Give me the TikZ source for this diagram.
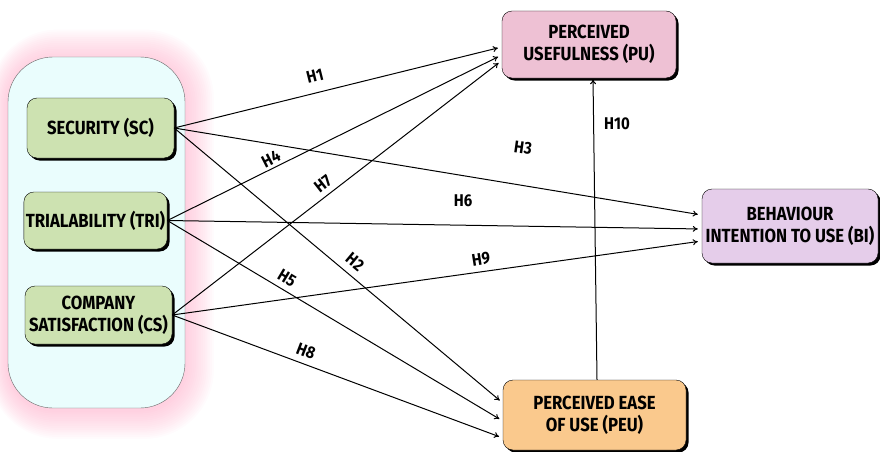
\documentclass[tikz,border=0pt]{standalone}
\usepackage{fontspec}
\usepackage{xcolor}
\usetikzlibrary{shapes, positioning, shadows, arrows.meta}
\newfontfamily\boxfont{Fira Sans}[FakeStretch=0.88]

\definecolor{groupfill}{HTML}{EAFDFD}
\definecolor{glow}{HTML}{FF9FC0}
\definecolor{scfill}{HTML}{CDE2B1}
\definecolor{pufill}{HTML}{EEC1D4}
\definecolor{bifill}{HTML}{E5CDEA}
\definecolor{peufill}{HTML}{FAC98D}

\tikzset{
    construct/.style={draw=black, rounded corners=10pt, align=center, inner sep=2pt,
        font=\boxfont\bfseries\fontsize{19}{22}\selectfont,
        drop shadow={shadow xshift=2.5pt, shadow yshift=-2.5pt, fill=black, opacity=1}},
    hlabel/.style={font=\boxfont\bfseries\fontsize{17}{19}\selectfont, inner sep=1pt},
    hyp/.style={-{To[length=5pt, width=6pt]}, line width=1pt, shorten >=4pt}
}

\begin{document}
\begin{tikzpicture}[x=1pt, y=-1pt]
        \useasboundingbox (0, 0) rectangle (880, 452);

        % pink glow round the group
        \foreach \i in {1,...,16} {
            \fill[glow, opacity=0.04, rounded corners=45+1.5*\i]
                (8-1.2*\i, 60-1.9*\i) rectangle (185+1.8*\i, 410+1.8*\i);
        }
        \node[draw=black!60, fill=groupfill, rounded corners=45pt,
            minimum width=177pt, minimum height=351pt] (grp) at (96.5, 232.5) {};

        \node[construct, fill=scfill, minimum width=147pt, minimum height=60pt] (sc) at (100.5, 128) {SECURITY (SC)};
        \node[construct, fill=scfill, minimum width=141pt, minimum height=57pt] (tri) at (95.5, 220.5) {TRIALABILITY (TRI)};
        \node[construct, fill=scfill, minimum width=147pt, minimum height=58pt] (cs) at (98.5, 315) {COMPANY\\SATISFACTION (CS)};

        \node[construct, fill=pufill, minimum width=174pt, minimum height=67pt] (pu) at (589, 44.5) {PERCEIVED\\USEFULNESS (PU)};
        \node[construct, fill=bifill, minimum width=176pt, minimum height=74pt] (bi) at (790, 226) {BEHAVIOUR\\INTENTION TO USE (BI)};
        \node[construct, fill=peufill, minimum width=183pt, minimum height=70pt] (peu) at (594.5, 415) {PERCEIVED EASE\\OF USE (PEU)};

        % hypotheses
        \draw[hyp] (sc.east) -- ([yshift=-2.5pt]pu.west);
        \draw[hyp] (tri.east) -- ([yshift=-10.5pt]pu.west);
        \draw[hyp] (cs.east) -- ([yshift=-16pt]pu.west);

        \draw[hyp] (sc.east) -- ([yshift=11pt]bi.west);
        \draw[hyp] (tri.east) -- ([yshift=-3pt]bi.west);
        \draw[hyp] (cs.east) -- ([yshift=-15pt]bi.west);

        \draw[hyp] (sc.east) -- ([yshift=12pt]peu.west);
        \draw[hyp] (tri.east) -- ([yshift=-6pt]peu.west);
        \draw[hyp] (cs.east) -- ([yshift=-23pt]peu.west);

        \draw[hyp, shorten >=1pt] ([xshift=2.5pt]peu.north) -- ([xshift=4pt]pu.south);

        \node[hlabel, rotate=14] (h1) at (315, 76) {H1};
        \node[hlabel, rotate=-40] (h2) at (355, 262) {H2};
        \node[hlabel, rotate=-8] (h3) at (523, 148) {H3};
        \node[hlabel, rotate=27] (h4) at (271, 159) {H4};
        \node[hlabel, rotate=-31] (h5) at (287, 278) {H5};
        \node[hlabel] (h6) at (463, 201) {H6};
        \node[hlabel, rotate=38] (h7) at (323, 184) {H7};
        \node[hlabel, rotate=-21] (h8) at (306, 351) {H8};
        \node[hlabel, rotate=9] (h9) at (481, 259) {H9};
        \node[hlabel] (h10) at (617, 124) {H10};
    \end{tikzpicture}
\end{document}
